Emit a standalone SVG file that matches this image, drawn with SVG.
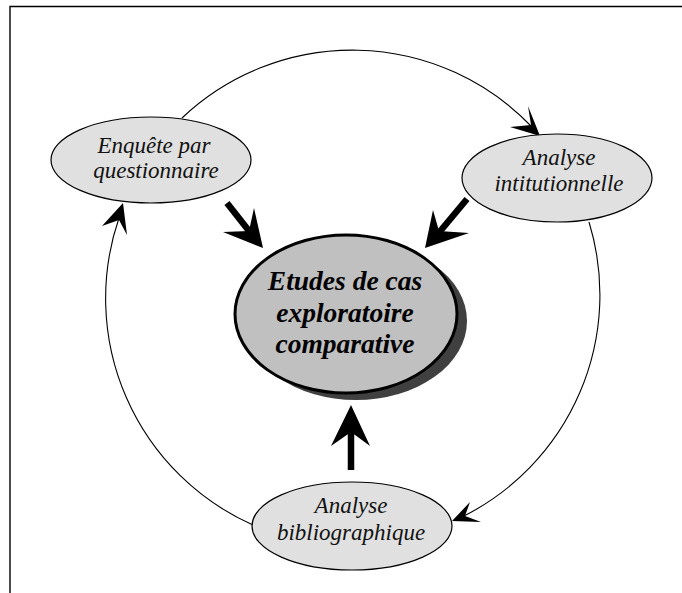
<svg xmlns="http://www.w3.org/2000/svg" width="682" height="593" viewBox="0 0 682 593">
<style>
.node{fill:#e0e0e0;stroke:#000;stroke-width:1.2}
.lbl{font-family:"Liberation Serif","Times New Roman",serif;font-style:italic;font-size:23px;fill:#111;text-anchor:middle}
.main{font-family:"Liberation Serif","Times New Roman",serif;font-style:italic;font-weight:bold;font-size:27.5px;fill:#000;text-anchor:middle}
.arc{fill:none;stroke:#000;stroke-width:1.1}
.thick{fill:none;stroke:#000;stroke-width:6.5}
.head{fill:#000;stroke:none}
</style>
<rect width="682" height="593" fill="#fff"/>
<g id="frame">
<path d="M10 593 V6.5 H682" fill="none" stroke="#000" stroke-width="1.4"/>
</g>
<g id="connectors">
<path class="arc" d="M182 118 A248 248 0 0 1 531 126"/>
<path class="head" d="M540 136 L528 106 L531 125 L510 127 Z"/>
<path class="arc" d="M589 222 A248 248 0 0 1 462 517"/>
<path class="head" d="M452 521 L470 502 L465 516 L481 522 Z"/>
<path class="arc" d="M253 525 A248 248 0 0 1 119 218"/>
<path class="head" d="M123 203 L102 226 L119 220 L127 235 Z"/>
<path class="thick" d="M227 203 L253 236"/>
<path class="head" d="M263 248 L254 208 L249 231 L223 232 Z"/>
<path class="thick" d="M467 199 L437 235"/>
<path class="head" d="M425 248 L433 210 L439 231 L469 233 Z"/>
<path class="thick" d="M351 470 L351 428"/>
<path class="head" d="M351 405 L331 446 L351 432 L370 446 Z"/>
</g>
<g id="enquete">
<ellipse class="node" cx="151" cy="160" rx="100" ry="43"/>
<text class="lbl" x="154" y="153">Enquête par</text>
<text class="lbl" x="156" y="178">questionnaire</text>
</g>
<g id="analyse-inst">
<ellipse class="node" cx="557" cy="178" rx="95" ry="44"/>
<text class="lbl" x="559" y="165">Analyse</text>
<text class="lbl" x="559" y="191">intitutionnelle</text>
</g>
<g id="etudes">
<ellipse cx="356" cy="321" rx="111" ry="79" fill="#404040"/>
<ellipse cx="346" cy="314" rx="111" ry="79" fill="#c0c0c0" stroke="#000" stroke-width="3"/>
<text class="main" x="345" y="290">Etudes de cas</text>
<text class="main" x="345" y="322">exploratoire</text>
<text class="main" x="345" y="353">comparative</text>
</g>
<g id="analyse-biblio">
<ellipse class="node" cx="352" cy="526" rx="100" ry="44"/>
<text class="lbl" x="351" y="513">Analyse</text>
<text class="lbl" x="351" y="540">bibliographique</text>
</g>
</svg>
